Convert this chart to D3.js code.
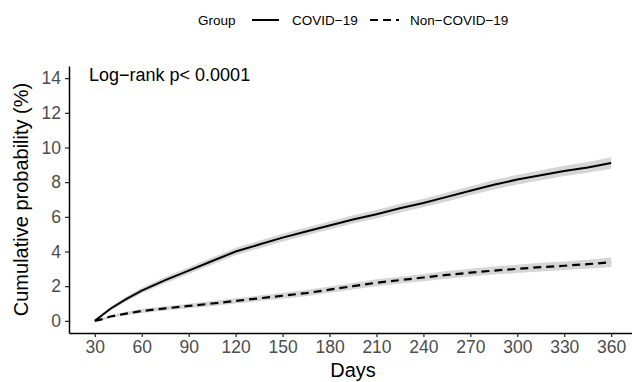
<!DOCTYPE html>
<html>
<head>
<meta charset="utf-8">
<script src="https://cdn.jsdelivr.net/npm/d3@7"></script>
<style>
    body { margin: 0; background: #fff; }
    svg { display: block; font-family: "Liberation Sans", Arial, sans-serif; }
    .tick text { fill: #4d4d4d; font-size: 17.5px; }
    .tick line { stroke: #222; stroke-width: 1.2; }
    .domain { stroke: #000; stroke-width: 1.5; }
    .axis-title { font-size: 20px; fill: #000; }
    .legend text { font-size: 13.5px; fill: #000; }
</style>
</head>
<body>
<div id="chart"></div>
<script>
    var width = 632,
        height = 382;

    // follow-up days and cumulative probability (%)
    var days = [30, 35, 40, 50, 60, 75, 90, 105, 120, 135, 150, 165, 180, 195, 210, 225, 240, 255, 270, 285, 300, 315, 330, 345, 360];
    var covid = [0, 0.35, 0.7, 1.25, 1.75, 2.35, 2.9, 3.45, 4.0, 4.4, 4.8, 5.15, 5.5, 5.85, 6.15, 6.5, 6.8, 7.15, 7.5, 7.85, 8.15, 8.4, 8.65, 8.85, 9.1];
    var covidCI = [0, 0.1, 0.12, 0.14, 0.16, 0.18, 0.19, 0.2, 0.21, 0.22, 0.22, 0.23, 0.23, 0.24, 0.24, 0.25, 0.25, 0.26, 0.26, 0.27, 0.28, 0.29, 0.3, 0.31, 0.33];
    var nonCovid = [0, 0.1, 0.25, 0.42, 0.57, 0.72, 0.86, 1.0, 1.15, 1.3, 1.45, 1.6, 1.8, 2.0, 2.2, 2.35, 2.5, 2.65, 2.78, 2.9, 3.0, 3.1, 3.18, 3.27, 3.38];
    var nonCovidCI = [0, 0.06, 0.08, 0.1, 0.11, 0.12, 0.13, 0.14, 0.15, 0.16, 0.17, 0.18, 0.18, 0.19, 0.2, 0.2, 0.21, 0.22, 0.22, 0.23, 0.24, 0.25, 0.25, 0.26, 0.27];

    var xTicks = [30, 60, 90, 120, 150, 180, 210, 240, 270, 300, 330, 360];
    var yTicks = [0, 2, 4, 6, 8, 10, 12, 14];
    var groups = ["COVID\u221219", "Non\u2212COVID\u221219"];

    var svg = d3.select("#chart").append("svg")
        .attr("width", width)
        .attr("height", height);

    var xScale = d3.scaleLinear()
        .domain([13.5, 376.5])
        .range([69, 637]);

    var yScale = d3.scaleLinear()
        .domain([-0.7, 14.7])
        .range([333, 66]);

    function series(values, ci) {
        return days.map(function(d, i) {
            return { day: d, p: values[i], lo: values[i] - ci[i], hi: values[i] + ci[i] };
        });
    }

    var covidData = series(covid, covidCI);
    var nonCovidData = series(nonCovid, nonCovidCI);

    var band = d3.area()
        .x(function(d) { return xScale(d.day); })
        .y0(function(d) { return yScale(d.lo); })
        .y1(function(d) { return yScale(d.hi); });

    var line = d3.line()
        .x(function(d) { return xScale(d.day); })
        .y(function(d) { return yScale(d.p); });

    //confidence bands first, lines on top
    [covidData, nonCovidData].forEach(function(data) {
        svg.append("path")
            .datum(data)
            .attr("fill", "#d6d6d6")
            .attr("d", band);
    });

    svg.append("path")
        .datum(covidData)
        .attr("fill", "none")
        .attr("stroke", "#000")
        .attr("stroke-width", 2)
        .attr("d", line);

    svg.append("path")
        .datum(nonCovidData)
        .attr("fill", "none")
        .attr("stroke", "#000")
        .attr("stroke-width", 2.2)
        .attr("stroke-dasharray", "8,5")
        .attr("d", line);

    // axes
    svg.append("g")
        .attr("transform", "translate(0,333)")
        .call(d3.axisBottom(xScale).tickValues(xTicks).tickSize(4).tickPadding(4).tickSizeOuter(0));

    svg.append("g")
        .attr("transform", "translate(69,0)")
        .call(d3.axisLeft(yScale).tickValues(yTicks).tickSize(4).tickPadding(4).tickSizeOuter(0));

    svg.selectAll("g text").attr("font-size", null).attr("font-family", null);

    svg.append("text")
        .attr("class", "axis-title")
        .attr("x", xScale(195))
        .attr("y", 377)
        .attr("text-anchor", "middle")
        .text("Days");

    svg.append("text")
        .attr("class", "axis-title")
        .attr("transform", "translate(28," + yScale(7) + ") rotate(-90)")
        .attr("text-anchor", "middle")
        .text("Cumulative probability (%)");

    svg.append("text")
        .attr("x", 89)
        .attr("y", 81)
        .attr("font-size", 18)
        .text("Log\u2212rank p< 0.0001");

    // legend
    var legend = svg.append("g").attr("class", "legend");

    legend.append("text").attr("x", 198).attr("y", 25).text("Group");

    legend.append("line")
        .attr("x1", 252).attr("x2", 279).attr("y1", 20).attr("y2", 20)
        .attr("stroke", "#000").attr("stroke-width", 2);
    legend.append("text").attr("x", 292).attr("y", 25).text(groups[0]);

    legend.append("line")
        .attr("x1", 370).attr("x2", 399).attr("y1", 20).attr("y2", 20)
        .attr("stroke", "#000").attr("stroke-width", 2.2)
        .attr("stroke-dasharray", "8,5");
    legend.append("text").attr("x", 410).attr("y", 25).text(groups[1]);
</script>
</body>
</html>
